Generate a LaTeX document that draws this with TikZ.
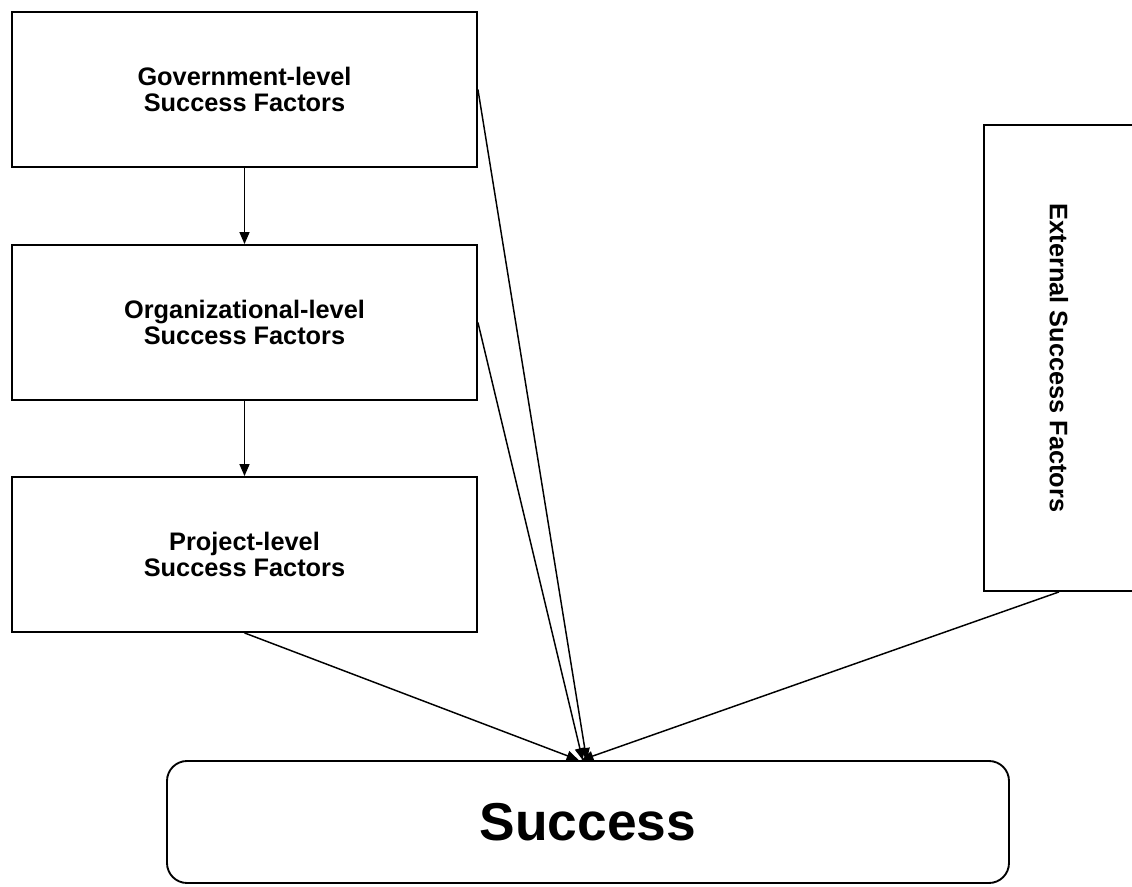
\documentclass[tikz,border=0pt]{standalone}
\usepackage{fontspec}
\setmainfont{Liberation Sans}
\usetikzlibrary{arrows.meta}
\begin{document}
\begin{tikzpicture}[x=0.75pt, y=-0.75pt, >={Triangle[length=9pt, width=7.5pt]}]
    % Define box styles
    \tikzstyle{factor} = [draw, rectangle, line width=1.4pt, minimum width=348.75pt, minimum height=116.25pt, align=center, font=\fontsize{19}{19.5}\selectfont\bfseries]
    \tikzstyle{extern} = [draw, rectangle, line width=1.4pt, minimum width=349.5pt, minimum height=112.5pt, align=center, rotate=-90, font=\fontsize{19}{19.5}\selectfont\bfseries]
    \tikzstyle{goal} = [draw, rectangle, line width=1.4pt, minimum width=631.5pt, minimum height=91.5pt, rounded corners=15pt, align=center, font=\fontsize{40}{44}\selectfont\bfseries]
    \tikzstyle{link} = [->, line width=1.1pt]
    \useasboundingbox (0,0) rectangle (1132,887);
    \clip (0,0) rectangle (1132,887);

    % Factor nodes
    \node[factor] (gov) at (244.5, 89.5) {Government-level\\Success Factors};
    \node[factor] (org) at (244.5, 322.5) {Organizational-level\\Success Factors};
    \node[factor] (proj) at (244.5, 554.5) {Project-level\\Success Factors};
    \node[extern] (ext) at (1059, 358) {External Success Factors};
    \node[goal] (succ) at (588, 822) {Success};

    % Influence arrows
    \draw[link] (gov) -- (org);
    \draw[link] (org) -- (proj);
    \draw[link] (gov.east) -- ([xshift=-1pt]succ.north);
    \draw[link] (org.east) -- ([xshift=-4pt]succ.north);
    \draw[link] (proj.south) -- ([xshift=-7pt]succ.north);
    \draw[link] (ext.east) -- ([xshift=-5pt]succ.north);
\end{tikzpicture}
\end{document}
